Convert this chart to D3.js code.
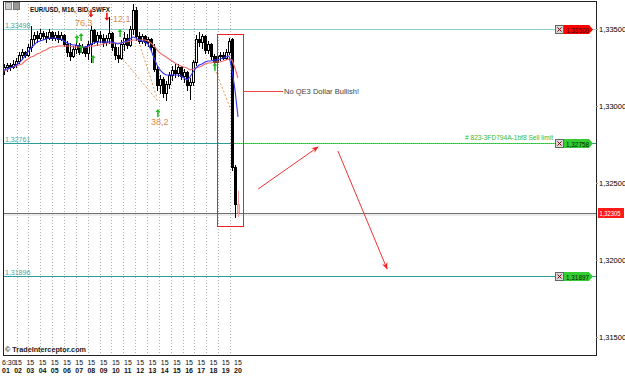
<!DOCTYPE html>
<html><head><meta charset="utf-8">
<script src="https://cdn.jsdelivr.net/npm/d3@7/dist/d3.min.js"></script>
<style>
html,body{margin:0;padding:0;background:#fff;overflow:hidden}
svg{display:block}
text{font-family:"Liberation Sans",Arial,Helvetica,sans-serif}
</style></head><body>
<svg id="chart" width="625" height="378"></svg>
<script>
// ---------- DATA ----------
const opens  = [1.3323,1.3325,1.3326,1.3325,1.3327,1.3329,1.3333,1.3335,1.3333,1.3338,
                1.3343,1.3346,1.3344,1.3347,1.3345,1.3344,1.3348,1.3344,1.3346,1.3343,
                1.3346,1.3340,1.3335,1.3332,1.3337,1.3339,1.3335,1.3338,1.3334,1.3340,
                1.3349,1.3342,1.3346,1.3344,1.3341,1.3344,1.3347,1.3338,1.3333,1.3331,
                1.3340,1.3344,1.3339,1.3350,1.3362,1.3345,1.3342,1.3345,1.3341,1.3343,
                1.3338,1.3324,1.3313,1.3317,1.3308,1.3314,1.3320,1.3323,1.3321,1.3325,
                1.3319,1.3322,1.3313,1.3315,1.3328,1.3343,1.3341,1.3345,1.3336,1.3340,
                1.3332,1.3328,1.3332,1.3333,1.3331,1.3335,1.3343,1.3260,1.3236];
const highs  = [1.3327,1.3328,1.3328,1.3330,1.3331,1.3335,1.3337,1.3336,1.3340,1.3352,
                1.3348,1.3349,1.3350,1.3349,1.3348,1.3350,1.3349,1.3348,1.3349,1.3348,
                1.3347,1.3342,1.3341,1.3339,1.3342,1.3341,1.3340,1.3339,1.3342,1.3352,
                1.3350,1.3348,1.3349,1.3347,1.3346,1.3358,1.3348,1.3341,1.3338,1.3343,
                1.3348,1.3347,1.3352,1.3366,1.3364,1.3348,1.3347,1.3346,1.3345,1.3344,
                1.3340,1.3326,1.3320,1.3319,1.3316,1.3322,1.3326,1.3327,1.3327,1.3326,
                1.3324,1.3323,1.3318,1.3330,1.3346,1.3348,1.3347,1.3346,1.3342,1.3341,
                1.3334,1.3334,1.3335,1.3335,1.3337,1.3344,1.3344,1.3262,1.3245];
const lows   = [1.3320,1.3322,1.3323,1.3324,1.3325,1.3327,1.3330,1.3331,1.3332,1.3335,
                1.3340,1.3341,1.3342,1.3343,1.3341,1.3343,1.3342,1.3342,1.3341,1.3342,
                1.3338,1.3332,1.3329,1.3331,1.3334,1.3333,1.3334,1.3332,1.3330,1.3328,
                1.3340,1.3339,1.3341,1.3338,1.3339,1.3340,1.3336,1.3330,1.3328,1.3330,
                1.3336,1.3337,1.3338,1.3346,1.3342,1.3340,1.3340,1.3339,1.3338,1.3336,
                1.3322,1.3310,1.3308,1.3305,1.3303,1.3311,1.3316,1.3318,1.3319,1.3317,
                1.3315,1.3310,1.3304,1.3313,1.3326,1.3338,1.3337,1.3334,1.3334,1.3330,
                1.3326,1.3327,1.3329,1.3330,1.3330,1.3333,1.3258,1.3227,1.3228];
const closes = [1.3325,1.3326,1.3325,1.3327,1.3329,1.3333,1.3335,1.3333,1.3338,1.3343,
                1.3346,1.3344,1.3347,1.3345,1.3344,1.3348,1.3344,1.3346,1.3343,1.3346,
                1.3340,1.3335,1.3332,1.3337,1.3339,1.3335,1.3338,1.3334,1.3340,1.3349,
                1.3342,1.3346,1.3344,1.3341,1.3344,1.3347,1.3338,1.3333,1.3331,1.3340,
                1.3344,1.3339,1.3350,1.3362,1.3345,1.3342,1.3345,1.3341,1.3343,1.3338,
                1.3324,1.3313,1.3317,1.3308,1.3314,1.3320,1.3323,1.3321,1.3325,1.3319,
                1.3322,1.3313,1.3315,1.3328,1.3343,1.3341,1.3345,1.3336,1.3340,1.3332,
                1.3328,1.3332,1.3333,1.3331,1.3335,1.3342,1.3260,1.3236,1.3231];
const blueMA = [1.33234,1.33240,1.33247,1.33253,1.33266,1.33279,1.33299,1.33325,1.33351,1.33377,
                1.33396,1.33416,1.33422,1.33429,1.33435,1.33442,1.33442,1.33442,1.33435,1.33435,
                1.33422,1.33409,1.33403,1.33396,1.33396,1.33390,1.33383,1.33383,1.33390,1.33403,
                1.33409,1.33416,1.33416,1.33416,1.33416,1.33416,1.33416,1.33409,1.33403,1.33409,
                1.33416,1.33422,1.33435,1.33448,1.33442,1.33429,1.33422,1.33416,1.33403,1.33364,
                1.33312,1.33266,1.33234,1.33214,1.33201,1.33201,1.33201,1.33201,1.33201,1.33195,
                1.33182,1.33169,1.33188,1.33221,1.33247,1.33266,1.33273,1.33286,1.33292,1.33292,
                1.33299,1.33299,1.33305,1.33312,1.33318,1.33325,1.33234,1.33104,1.32929];
const redMA  = [1.33227,1.33234,1.33247,1.33253,1.33260,1.33266,1.33273,1.33292,1.33305,1.33318,
                1.33325,1.33338,1.33344,1.33357,1.33364,1.33377,1.33383,1.33383,1.33390,1.33390,
                1.33390,1.33390,1.33390,1.33383,1.33383,1.33383,1.33383,1.33383,1.33383,1.33390,
                1.33390,1.33396,1.33396,1.33403,1.33409,1.33409,1.33409,1.33409,1.33409,1.33409,
                1.33416,1.33416,1.33422,1.33429,1.33429,1.33429,1.33429,1.33429,1.33422,1.33409,
                1.33390,1.33364,1.33344,1.33331,1.33318,1.33305,1.33292,1.33279,1.33266,1.33260,
                1.33253,1.33247,1.33234,1.33240,1.33247,1.33253,1.33260,1.33273,1.33279,1.33279,
                1.33286,1.33286,1.33286,1.33292,1.33299,1.33305,1.33299,1.33247,1.33182];
const priceTicks = [1.335,1.330,1.325,1.320,1.315];
const levelValues = [1.33498,1.32761,1.31896];
const levelLabels = ["1,33498","1,32761","1,31896"];
const orderPrices = [1.33500,1.32758,1.31897];
const orderLabels = ["1,33500","1,32758","1,31897"];
const orderColors = ["#ff0000","#33cc33","#33cc33"];
const currentPrice = 1.32305;
const currentLabel = "1,32305";
const timeLabels = ["6:30","15","15","15","15","15","15","15","15","15","15","15","15","15","15","15","15","15","15","15"];
const dayLabels = ["01","02","03","04","05","06","07","08","09","10","11","12","13","14","15","16","17","18","19","20"];
// zigzag dotted lines [i1,p1,i2,p2]
const zigzags = [[38.7,1.33325,51.3,1.33032],[45.3,1.33396,51.0,1.33052],[70.7,1.33221,76.3,1.32942]];
const fibLabels = ["76,3","-12,1","38,2"];
const fibPos = [[23.7,1.33520],[35.3,1.33545],[49.0,1.32875]];
const upArrows = [[24.3,1.33435],[25.7,1.33448],[25.7,1.33370],[29.7,1.33305],[38.7,1.33474],[51.3,1.32955],[70.3,1.33255]];
const downArrows = [[29.0,1.33600],[34.3,1.33580]];
const boxRange = [71.0,79.67,1.33468,1.32221];
const noteLine = [79.67,93.0,1.33097];
const noteText = "No QE3 Dollar Bullish!";
const redArrows = [[84.7,1.32461,104.7,1.32734],[111.3,1.32708,127.7,1.31942]];
const orderComment = "# 823-3FD794A-1bf8 Sell limit";
const title = "EUR/USD, M16, BID, SWFX";

// ---------- SCALES ----------
const L=3,R=596,T=1,B=355;
const y = d3.scaleLinear().domain([1.315,1.335]).range([337,29]);
const x = d3.scaleLinear().domain([0,78]).range([4,238]);
const dx = d3.scaleLinear().domain([0,19]).range([2,234]);
const gx = d3.scaleLinear().domain([0,18]).range([16.5,230]);
const svg = d3.select('#chart');
const fmt = d => d3.format('.5f')(d).replace('.',',');

// gridlines
svg.append('g').selectAll('line').data(d3.range(19)).join('line')
  .attr('x1',d=>Math.round(gx(d))+0.5).attr('x2',d=>Math.round(gx(d))+0.5)
  .attr('y1',T).attr('y2',B).attr('stroke','#b0b0b0').attr('stroke-dasharray','1,2');

// levels
svg.append('g').selectAll('line').data(levelValues).join('line')
  .attr('x1',L).attr('x2',R).attr('y1',d=>Math.round(y(d))+0.5).attr('y2',d=>Math.round(y(d))+0.5)
  .attr('stroke',(d,i)=>i===0?'#8ccfcf':'#2e9c9c').attr('stroke-width',1);
svg.append('g').selectAll('text').data(levelLabels).join('text')
  .attr('x',5).attr('y',(d,i)=>Math.round(y(levelValues[i]))-1)
  .attr('font-size',7).attr('fill','#44a5a5').text(d=>d);
// green dotted over order line
svg.append('line').attr('x1',x(77.3)).attr('x2',555).attr('y1',Math.round(y(orderPrices[1]))+0.5).attr('y2',Math.round(y(orderPrices[1]))+0.5)
  .attr('stroke','#55dd55').attr('stroke-dasharray','1,1');
svg.append('text').attr('x',465).attr('y',Math.round(y(orderPrices[1]))-3).attr('font-size',7)
  .attr('fill','#33bb33').attr('textLength',88).attr('lengthAdjust','spacingAndGlyphs').text(orderComment);

// current price line
svg.append('line').attr('x1',L).attr('x2',R).attr('y1',Math.round(y(currentPrice))+0.5).attr('y2',Math.round(y(currentPrice))+0.5).attr('stroke','#707070');
svg.append('line').attr('x1',L).attr('x2',R).attr('y1',Math.round(y(currentPrice))+2).attr('y2',Math.round(y(currentPrice))+2).attr('stroke','#d8d8d8');

// zigzag
svg.append('g').selectAll('line').data(zigzags).join('line')
  .attr('x1',d=>x(d[0])).attr('y1',d=>y(d[1])).attr('x2',d=>x(d[2])).attr('y2',d=>y(d[3]))
  .attr('stroke','#e8965a').attr('stroke-dasharray','2,2').attr('stroke-width',1);

// candles
const candles = closes.map((c,i)=>({i,o:opens[i],h:highs[i],l:lows[i],c}));
const cg = svg.append('g').attr('shape-rendering','crispEdges');
cg.selectAll('line').data(candles).join('line')
  .attr('x1',d=>Math.round(x(d.i))+0.5).attr('x2',d=>Math.round(x(d.i))+0.5)
  .attr('y1',d=>y(d.h)).attr('y2',d=>y(d.l)).attr('stroke',d=>d.i===78?'#f4a0a0':'#000');
cg.selectAll('rect').data(candles).join('rect')
  .attr('x',d=>Math.round(x(d.i))-0.5).attr('width',2)
  .attr('y',d=>y(Math.max(d.o,d.c))).attr('height',d=>Math.max(1,Math.abs(y(d.o)-y(d.c))))
  .attr('fill',d=>d.i===78?'#f8c0c0':(d.c<d.o?'#000':'#fff'))
  .attr('stroke',d=>d.i===78?'#f4a0a0':'#000').attr('stroke-width',1);

// moving averages
const ln = d3.line().x((d,i)=>x(i)).y(d=>y(d));
svg.append('path').attr('d',ln(redMA)).attr('fill','none').attr('stroke','#f26a6a').attr('stroke-width',1.1);
svg.append('path').attr('d',ln(blueMA)).attr('fill','none').attr('stroke','#3434ff').attr('stroke-width',1.1);

// arrows
const upPath='M0,-4 L-2.5,-1 L-0.8,-1 L-0.8,4 L0.8,4 L0.8,-1 L2.5,-1 Z';
svg.append('g').selectAll('path').data(upArrows).join('path')
  .attr('transform',d=>`translate(${x(d[0])},${y(d[1])})`).attr('d',upPath).attr('fill','#22bb22');
svg.append('g').selectAll('path').data(downArrows).join('path')
  .attr('transform',d=>`translate(${x(d[0])},${y(d[1])}) scale(1,-1)`).attr('d',upPath).attr('fill','#ee1111');
svg.append('g').selectAll('text').data(fibLabels).join('text')
  .attr('x',(d,i)=>x(fibPos[i][0])).attr('y',(d,i)=>y(fibPos[i][1]))
  .attr('font-size',9).attr('fill','#e08a4a').text(d=>d);

// red box + note
svg.append('rect').attr('x',Math.round(x(boxRange[0]))+0.5).attr('y',Math.round(y(boxRange[2]))+0.5)
  .attr('width',x(boxRange[1])-x(boxRange[0])).attr('height',y(boxRange[3])-y(boxRange[2]))
  .attr('fill','none').attr('stroke','#ee2222').attr('shape-rendering','crispEdges');
svg.append('line').attr('x1',x(noteLine[0])).attr('x2',x(noteLine[1])).attr('y1',Math.round(y(noteLine[2]))+0.5).attr('y2',Math.round(y(noteLine[2]))+0.5)
  .attr('stroke','#ee4444');
svg.append('text').attr('x',x(noteLine[1])+1).attr('y',y(noteLine[2])+3).attr('font-size',7.5)
  .attr('fill','#444').attr('textLength',75).attr('lengthAdjust','spacingAndGlyphs').text(noteText);

// red trend arrows
const defs = svg.append('defs');
defs.append('marker').attr('id','ah').attr('viewBox','0 0 10 10').attr('refX',9).attr('refY',5)
  .attr('markerWidth',7).attr('markerHeight',7).attr('orient','auto')
  .append('path').attr('d','M0,1 L10,5 L0,9 L3,5 Z').attr('fill','#ee2222');
svg.append('g').selectAll('line').data(redArrows).join('line')
  .attr('x1',d=>x(d[0])).attr('y1',d=>y(d[1])).attr('x2',d=>x(d[2])).attr('y2',d=>y(d[3]))
  .attr('stroke','#ee3333').attr('stroke-width',1).attr('marker-end','url(#ah)');

// order labels on right
const og = svg.append('g').selectAll('g').data(orderPrices).join('g')
  .attr('transform',d=>`translate(0,${Math.round(y(d))})`);
og.append('line').attr('x1',592).attr('x2',R).attr('y1',0.5).attr('y2',0.5).attr('stroke',(d,i)=>i===0?'#8ccfcf':'#2e9c9c');
og.append('rect').attr('x',555.5).attr('y',-3.5).attr('width',8).attr('height',8).attr('fill','#d8d8d8').attr('stroke','#666');
og.append('path').attr('d','M557.5,-1.5 L561.5,2.5 M561.5,-1.5 L557.5,2.5').attr('stroke','#8b0000').attr('stroke-width',1);
og.append('path').attr('d','M564,-4 L589,-4 L593,0.5 L589,5 L564,5 Z').attr('fill',(d,i)=>orderColors[i]);
og.append('text').attr('x',566).attr('y',3.5).attr('font-size',7.5).attr('fill',(d,i)=>i===0?'#330000':'#002200')
  .attr('textLength',23).attr('lengthAdjust','spacingAndGlyphs').text((d,i)=>orderLabels[i]);

// borders
svg.append('rect').attr('x',L+0.5).attr('y',T+0.5).attr('width',R-L).attr('height',B-T)
  .attr('fill','none').attr('stroke','#222').attr('shape-rendering','crispEdges');

// right axis
const ax = svg.append('g').attr('transform',`translate(${R},0)`)
  .call(d3.axisRight(y).tickValues(priceTicks).tickFormat(fmt).tickSize(2).tickPadding(1));
ax.select('.domain').remove();
ax.selectAll('line').attr('stroke','#999');
ax.selectAll('text').attr('font-size',7.5).attr('fill','#000').attr('font-family','"Liberation Sans",Arial,sans-serif');

// current price tag
svg.append('rect').attr('x',598).attr('y',Math.round(y(currentPrice))-5).attr('width',26).attr('height',10).attr('fill','#ff1a1a');
svg.append('text').attr('x',599.5).attr('y',Math.round(y(currentPrice))+3).attr('font-size',7).attr('fill','#fff')
  .attr('textLength',21).attr('lengthAdjust','spacingAndGlyphs').text(currentLabel);

// bottom labels
svg.append('g').selectAll('text').data(timeLabels).join('text')
  .attr('x',(d,i)=>dx(i)).attr('y',365).attr('font-size',7).attr('fill','#111').text(d=>d);
svg.append('g').selectAll('text').data(dayLabels).join('text')
  .attr('x',(d,i)=>dx(i)).attr('y',373).attr('font-size',7).attr('font-weight','bold').attr('fill','#111').text(d=>d);

// title, watermark, icons
svg.append('rect').attr('x',5.5).attr('y',2.5).attr('width',6).attr('height',7).attr('fill','#ccc').attr('stroke','#888');
svg.append('rect').attr('x',13.5).attr('y',2.5).attr('width',6).attr('height',7).attr('fill','#999').attr('stroke','#777');
svg.append('text').attr('x',30).attr('y',12).attr('font-size',7.5).attr('font-weight','bold').attr('fill','#111')
  .attr('textLength',80).attr('lengthAdjust','spacingAndGlyphs').text(title);
svg.append('text').attr('x',5).attr('y',352).attr('font-size',7.5).attr('font-weight','bold').attr('fill','#222')
  .attr('textLength',81).attr('lengthAdjust','spacingAndGlyphs').text('© TradeInterceptor.com');
</script></body></html>
